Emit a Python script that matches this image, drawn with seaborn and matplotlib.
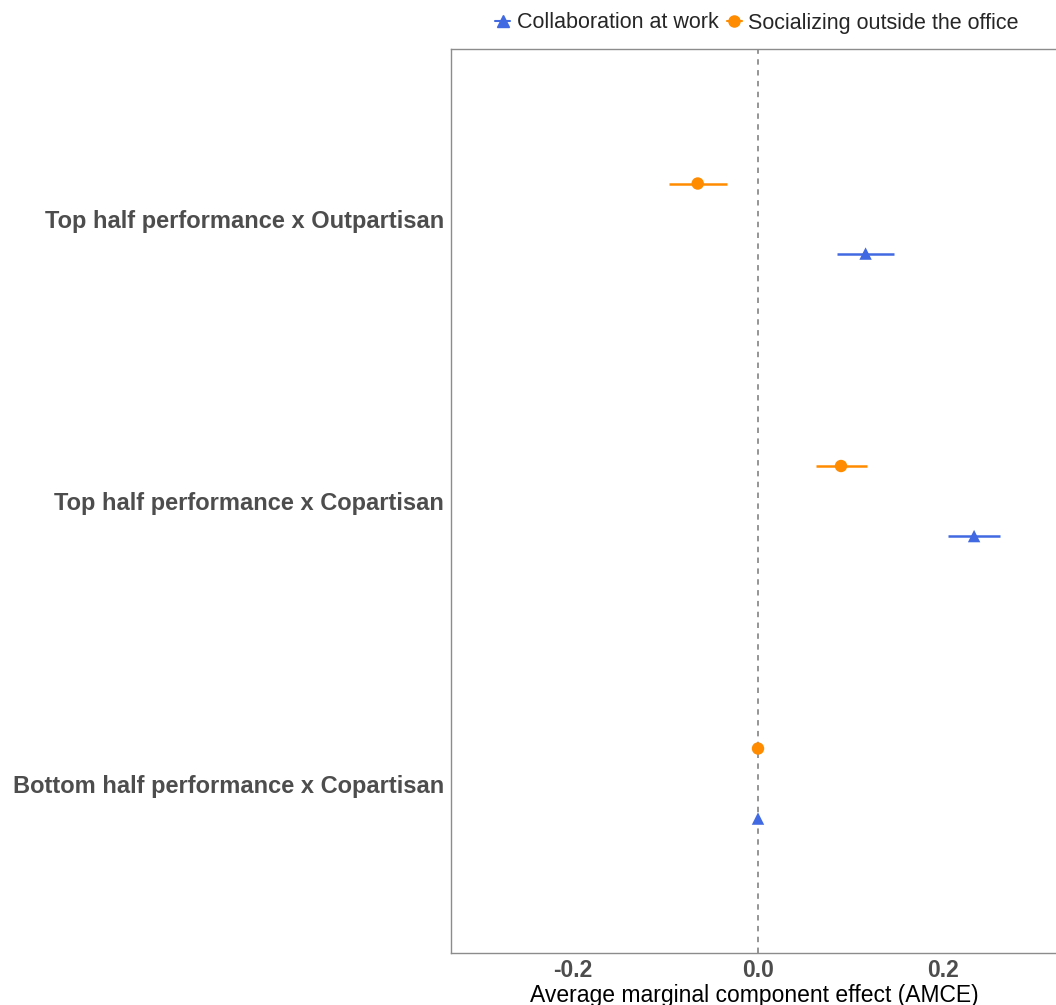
import matplotlib
matplotlib.use("Agg")
import matplotlib.pyplot as plt
import seaborn as sns
import pandas as pd
import numpy as np
from matplotlib.lines import Line2D

sns.set_theme(style="white")
plt.rcParams['font.family'] = ['Liberation Sans', 'DejaVu Sans']

categories = ["Top half performance x Outpartisan",
              "Top half performance x Copartisan",
              "Bottom half performance x Copartisan"]
series = ["Collaboration at work", "Socializing outside the office"]

collab_est = [0.116, 0.233, 0.0]
collab_lo = [0.085, 0.205, 0.0]
collab_hi = [0.147, 0.261, 0.0]

social_est = [-0.065, 0.0895, 0.0]
social_lo = [-0.096, 0.0625, 0.0]
social_hi = [-0.033, 0.1175, 0.0]

colors = {"Collaboration at work": "#4169E1", "Socializing outside the office": "#FF8C00"}
markers = {"Collaboration at work": "^", "Socializing outside the office": "o"}
offsets = {"Collaboration at work": 0.124, "Socializing outside the office": -0.124}

rows = []
for s, est, lo, hi in [(series[0], collab_est, collab_lo, collab_hi),
                       (series[1], social_est, social_lo, social_hi)]:
    for i, c in enumerate(categories):
        rows.append(dict(series=s, category=c, est=est[i], lo=lo[i], hi=hi[i],
                         ypos=i + offsets[s]))
df = pd.DataFrame(rows)

fig = plt.figure(figsize=(10.56, 10.05), dpi=100)
ax = fig.add_axes([0.4271, 0.0517, 0.5735, 0.8995])

ax.axvline(0, color="#8C8C8C", linestyle=(0, (3, 3)), linewidth=1.3, zorder=1)

for s in series:
    d = df[df.series == s]
    ax.hlines(d.ypos, d.lo, d.hi, color=colors[s], linewidth=1.8, zorder=2)

sns.scatterplot(data=df, x="est", y="ypos", hue="series", style="series",
                palette=colors, markers=markers, s=[80], linewidth=0,
                ax=ax, legend=False, zorder=3)

ax.set_xlim(-0.331, 0.322)
ax.set_ylim(2.6, -0.6)
ax.set_yticks(range(len(categories)))
ax.set_yticklabels(categories)
ax.set_xticks([-0.2, 0.0, 0.2])
ax.set_xticklabels(["-0.2", "0.0", "0.2"])
ax.tick_params(axis="y", length=0, pad=5)
ax.tick_params(axis="x", length=0, pad=4)
for lbl in ax.get_yticklabels():
    lbl.set_fontsize(17)
    lbl.set_fontweight("bold")
    lbl.set_color("#4D4D4D")
for lbl in ax.get_xticklabels():
    lbl.set_fontsize(16.5)
    lbl.set_fontweight("bold")
    lbl.set_color("#4D4D4D")
ax.set_xlabel("Average marginal component effect (AMCE)", fontsize=16.5, color="black")
ax.xaxis.set_label_coords(0.5, -(984 - 953) / 904)
ax.set_ylabel("")

for sp in ["left", "top", "bottom"]:
    ax.spines[sp].set_color("#8C8C8C")
    ax.spines[sp].set_linewidth(1.0)
ax.spines["right"].set_visible(False)

handles = [Line2D([0], [0], color=colors[s], marker=markers[s], markersize=8,
                  linewidth=1.5, linestyle="-") for s in series]
leg = fig.legend(handles, series, loc="center", bbox_to_anchor=(757 / 1056, 1 - 23 / 1005),
                 ncol=2, frameon=False, fontsize=15.5, handlelength=0.7,
                 handletextpad=0.3, columnspacing=0.4)

fig.savefig("out.png", dpi=100)
